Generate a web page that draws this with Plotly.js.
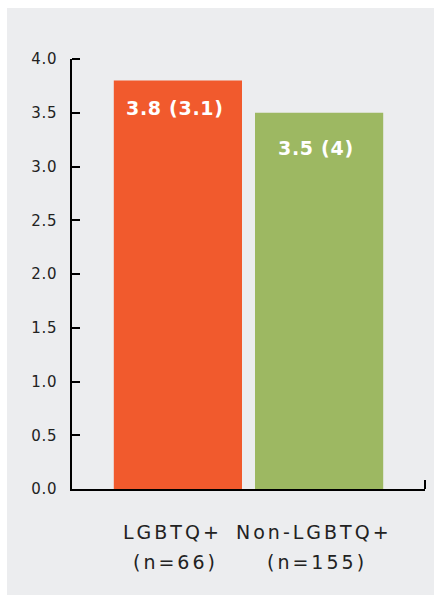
<!DOCTYPE html>
<html>
<head>
<meta charset="utf-8">
<script src="https://cdn.plot.ly/plotly-3.0.1.min.js"></script>
<style>
  html, body { margin: 0; padding: 0; background: #ffffff; width: 435px; height: 596px; overflow: hidden; }
  #chart { position: absolute; left: 7px; top: 8px; width: 427px; height: 587px; }
  #done { position: absolute; left: 0; top: 0; font: 1px monospace; color: #ffffff; }
</style>
</head>
<body>
<div id="chart"></div>
<div id="done"></div>
<script>
// ---- data ----
const categories = ["LGBTQ+", "Non-LGBTQ+"];
const sampleSizes = ["(n=66)", "(n=155)"];
const means = [3.8, 3.5];
const barLabels = ["3.8 (3.1)", "3.5 (4)"];
const yTickVals = [0, 0.5, 1, 1.5, 2, 2.5, 3, 3.5, 4];
const yTickText = ["0.0", "0.5", "1.0", "1.5", "2.0", "2.5", "3.0", "3.5", "4.0"];

// ---- styles ----
const barColors = ["#F15A2D", "#9DB862"];
const labelShift = [-27, -35];
const bg = "#ECEDEF";
const font = "DejaVu Sans";
const spaced = (t, px) => '<span style="letter-spacing:' + px + 'px">' + t + '</span>';

const trace = {
  type: "bar",
  x: categories,
  y: means,
  marker: { color: barColors, line: { width: 0 } },
  hoverinfo: "none"
};

const annotations = [];
categories.forEach((c, i) => {
  annotations.push({
    x: c, y: means[i], xref: "x", yref: "y",
    text: "<b>" + spaced(barLabels[i], 0.7) + "</b>",
    showarrow: false, yanchor: "middle", xanchor: "center",
    yshift: labelShift[i], xshift: -3,
    font: { family: font, size: 19, color: "#ffffff" }
  });
  annotations.push({
    x: c, y: 0, xref: "x", yref: "paper",
    text: spaced(c, 3), showarrow: false, yanchor: "top", xanchor: "center",
    yshift: -30, xshift: -5,
    font: { family: font, size: 19, color: "#222222" }
  });
  annotations.push({
    x: c, y: 0, xref: "x", yref: "paper",
    text: spaced(sampleSizes[i], 3), showarrow: false, yanchor: "top", xanchor: "center",
    yshift: -60, xshift: -2,
    font: { family: font, size: 19, color: "#222222" }
  });
});

// end ticks of the axes (top of y axis, right end of x axis)
const shapes = [
  { type: "line", xref: "paper", yref: "paper", x0: 0, x1: 8, xsizemode: "pixel", xanchor: 0,
    y0: 1, y1: 1, line: { color: "#000000", width: 2 } },
  { type: "line", xref: "paper", yref: "paper", x0: 1, x1: 1, ysizemode: "pixel", yanchor: 0,
    y0: 0, y1: 9, line: { color: "#000000", width: 2 } }
];

const layout = {
  width: 427, height: 587,
  margin: { l: 65, r: 9, t: 51, b: 106, pad: 0 },
  paper_bgcolor: bg,
  plot_bgcolor: bg,
  showlegend: false,
  bargap: 0.092,
  xaxis: {
    type: "category",
    range: [-0.75, 1.75],
    showline: true, linecolor: "#000000", linewidth: 2,
    showgrid: false, zeroline: false,
    showticklabels: false, ticks: ""
  },
  yaxis: {
    range: [0, 4],
    showline: true, linecolor: "#000000", linewidth: 2,
    showgrid: false, zeroline: false,
    tickmode: "array", tickvals: yTickVals,
    ticktext: yTickText.map(t => spaced(t, 0.8) + "\u00a0\u00a0"),
    ticks: "inside", ticklen: 8, tickwidth: 2, tickcolor: "#000000",
    tickfont: { family: font, size: 15, color: "#222222" }
  },
  shapes: shapes,
  annotations: annotations
};

Plotly.newPlot("chart", [trace], layout, { displayModeBar: false, staticPlot: true }).then(gd => {
  document.getElementById("done").textContent = ".";
});
</script>
</body>
</html>
